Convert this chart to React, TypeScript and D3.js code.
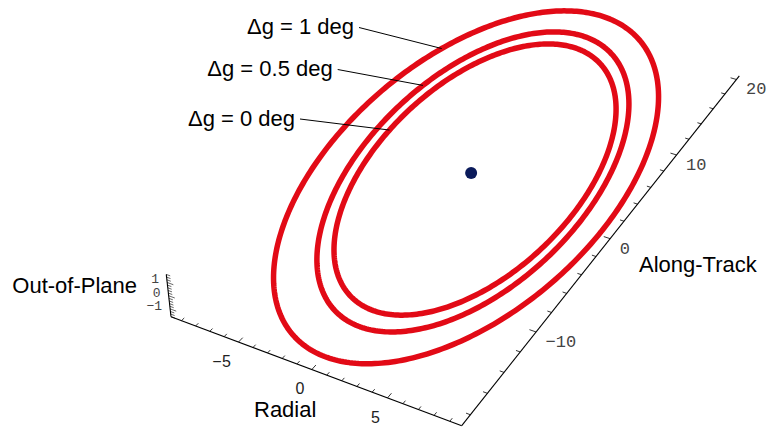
import React, { useEffect } from 'react';
import * as d3 from 'd3';

const W = 767;
const H = 433;

// ---- data ----
const DELTA_G = [0, 0.5, 1];
const DELTA_G_LABELS = ['Δg = 0 deg', 'Δg = 0.5 deg', 'Δg = 1 deg'];
const RADIAL_CENTER = [0.3, 0.25, 0.05];
const ALONG_CENTER = [0.8, 0.8, 0.7];
const RADIAL_AMP = [7.23, 7.99, 9.75];
const ALONG_COS = [-2.39, -2.64, -2.2];
const ALONG_SIN = [15.08, 16.66, 19.8];
const TARGET = [0, 0, 0];

const RADIAL_RANGE = [-9.75, 9.75];
const ALONG_RANGE = [-19, 20.5];
const OOP_RANGE = [-1.6, 1.6];
const RADIAL_TICKS = d3.range(-9, 10, 1);
const RADIAL_LABELS = [-5, 0, 5];
const ALONG_TICKS = d3.range(-18, 21, 2);
const ALONG_LABELS = [-10, 0, 10, 20];
const OOP_TICKS = d3.range(-16, 17, 2).map((v) => v / 10);
const OOP_LABELS = [-1, 0, 1];

// ---- layout ----
const VIEW_POINT = [1.3, -2.4, 2];
const SCALE = 2115;
const CORNER_ANCHOR = [171, 316.7];
const LEADER_HINTS = [[390, 129.3], [420, 84], [438.3, 43.3]];
const LABEL_POS = [[295, 125.5], [332.7, 76], [354, 34]];
const RED = '#e20a16';
const FONT = '"Liberation Sans", Arial, Helvetica, sans-serif';
const MONO = '"Liberation Mono", "Courier New", monospace';

type V3 = [number, number, number];
const dot = (a: number[], b: number[]) => a[0] * b[0] + a[1] * b[1] + a[2] * b[2];
const cross = (a: number[], b: number[]): V3 => [
  a[1] * b[2] - a[2] * b[1],
  a[2] * b[0] - a[0] * b[2],
  a[0] * b[1] - a[1] * b[0],
];
const norm = (a: number[]): V3 => {
  const n = Math.hypot(a[0], a[1], a[2]);
  return [a[0] / n, a[1] / n, a[2] / n];
};

function makeProjector() {
  const L = Math.max(
    RADIAL_RANGE[1] - RADIAL_RANGE[0],
    ALONG_RANGE[1] - ALONG_RANGE[0],
    OOP_RANGE[1] - OOP_RANGE[0]
  );
  const c = [
    (RADIAL_RANGE[0] + RADIAL_RANGE[1]) / 2,
    (ALONG_RANGE[0] + ALONG_RANGE[1]) / 2,
    (OOP_RANGE[0] + OOP_RANGE[1]) / 2,
  ];
  const C = VIEW_POINT;
  const f = norm([-C[0], -C[1], -C[2]]);
  const r = norm(cross(f, [0, 0, 1]));
  const u = cross(r, f);
  const raw = (x: number, y: number, z: number) => {
    const p = [(x - c[0]) / L - C[0], (y - c[1]) / L - C[1], (z - c[2]) / L - C[2]];
    const d = dot(p, f);
    return [dot(p, r) / d, dot(p, u) / d];
  };
  const a = raw(RADIAL_RANGE[0], ALONG_RANGE[0], OOP_RANGE[0]);
  const X0 = CORNER_ANCHOR[0] - SCALE * a[0];
  const Y0 = CORNER_ANCHOR[1] + SCALE * a[1];
  const proj = (x: number, y: number, z: number): [number, number] => {
    const q = raw(x, y, z);
    return [X0 + SCALE * q[0], Y0 - SCALE * q[1]];
  };
  return { proj, L };
}

export default function App() {
  useEffect(() => {
    document.body.style.margin = '0';
  }, []);

  const { proj, L } = makeProjector();
  const [xmin, xmax] = RADIAL_RANGE;
  const [ymin, ymax] = ALONG_RANGE;
  const [zmin, zmax] = OOP_RANGE;

  const tSamples = d3.range(0, 360, 1).map((d) => (d * Math.PI) / 180);
  const curves = DELTA_G.map((_, i) =>
    tSamples.map((t) =>
      proj(
        RADIAL_CENTER[i] + RADIAL_AMP[i] * Math.cos(t),
        ALONG_CENTER[i] + ALONG_COS[i] * Math.cos(t) + ALONG_SIN[i] * Math.sin(t),
        0
      )
    )
  );
  const line = d3.line<[number, number]>().curve(d3.curveLinearClosed);

  const leaders = curves.map((pts, i) => {
    const h = LEADER_HINTS[i];
    return d3.least(pts, (p) => Math.hypot(p[0] - h[0], p[1] - h[1]))!;
  });

  const seg = (a: [number, number], b: [number, number], key: string, sw = 1) => (
    <line key={key} x1={a[0]} y1={a[1]} x2={b[0]} y2={b[1]} stroke="#000" strokeWidth={sw} />
  );

  const radialTicks = RADIAL_TICKS.map((x) => {
    const major = RADIAL_LABELS.includes(x);
    const len = (major ? 0.011 : 0.007) * L;
    return seg(proj(x, ymin, zmin), proj(x, ymin + len, zmin), 'rt' + x, 0.8);
  });
  const alongTicks = ALONG_TICKS.map((y) => {
    const major = ALONG_LABELS.includes(y);
    const len = (major ? 0.011 : 0.007) * L;
    return seg(proj(xmax, y, zmin), proj(xmax - len, y, zmin), 'at' + y, 0.8);
  });
  const oopTicks = OOP_TICKS.map((z) => {
    const major = OOP_LABELS.includes(z);
    const len = (major ? 0.011 : 0.007) * L;
    return seg(proj(xmin, ymin, z), proj(xmin + len, ymin, z), 'zt' + z, 0.6);
  });

  const target = proj(TARGET[0], TARGET[1], TARGET[2]);

  return (
    <svg width={W} height={H} style={{ display: 'block', background: '#fff' }}>
      {/* axes */}
      {seg(proj(xmin, ymin, zmin), proj(xmax, ymin, zmin), 'ax-r', 1.1)}
      {seg(proj(xmax, ymin, zmin), proj(xmax, ymax, zmin), 'ax-a', 1.1)}
      {seg(proj(xmin, ymin, zmin), proj(xmin, ymin, zmax), 'ax-z', 1.1)}
      {radialTicks}
      {alongTicks}
      {oopTicks}

      {/* tick labels */}
      {RADIAL_LABELS.map((x) => {
        const p = proj(x, ymin, zmin);
        const cx = p[0] - 12;
        const by = p[1] + 25;
        return (
          <g key={'rl' + x} fontFamily={FONT} fontSize={16} fill="#222">
            <text x={cx} y={by} textAnchor="middle">{Math.abs(x)}</text>
            {x < 0 && (
              <text x={cx - 5} y={by} textAnchor="end">−</text>
            )}
          </g>
        );
      })}
      {ALONG_LABELS.map((y) => {
        const p = proj(xmax, y, zmin);
        return (
          <text key={'al' + y} x={p[0] + 9.5} y={p[1] + 15} fontFamily={MONO} fontSize={17} fill="#444">
            {y < 0 ? '−' + Math.abs(y) : String(y)}
          </text>
        );
      })}
      {OOP_LABELS.map((z) => {
        const p = proj(xmin, ymin, z);
        return (
          <text key={'zl' + z} x={p[0] - 8} y={p[1] + 1} textAnchor="end" fontFamily={MONO} fontSize={13} fill="#444">
            {z < 0 ? '−' + Math.abs(z) : String(z)}
          </text>
        );
      })}

      {/* axis titles */}
      <g fontFamily={FONT} fontSize={22} fill="#000">
        <text x={12.3} y={293.3}>Out-of-Plane</text>
        <text x={254} y={417.3}>Radial</text>
        <text x={639} y={271.7}>Along-Track</text>
      </g>

      {/* ellipses */}
      {curves.map((pts, i) => (
        <path key={'c' + i} d={line(pts) || ''} fill="none" stroke={RED} strokeWidth={5.5} strokeLinejoin="round" />
      ))}

      {/* target */}
      <circle cx={target[0]} cy={target[1]} r={6} fill="#0a1a5a" />

      {/* labels + leaders */}
      {DELTA_G_LABELS.map((lab, i) => {
        const [lx, ly] = LABEL_POS[i];
        const e = leaders[i];
        return (
          <g key={'lab' + i}>
            <text x={lx} y={ly} textAnchor="end" fontFamily={FONT} fontSize={22} fill="#000">{lab}</text>
            <line x1={lx + 5} y1={ly - 6.5} x2={e[0]} y2={e[1]} stroke="#000" strokeWidth={1} />
          </g>
        );
      })}
    </svg>
  );
}
